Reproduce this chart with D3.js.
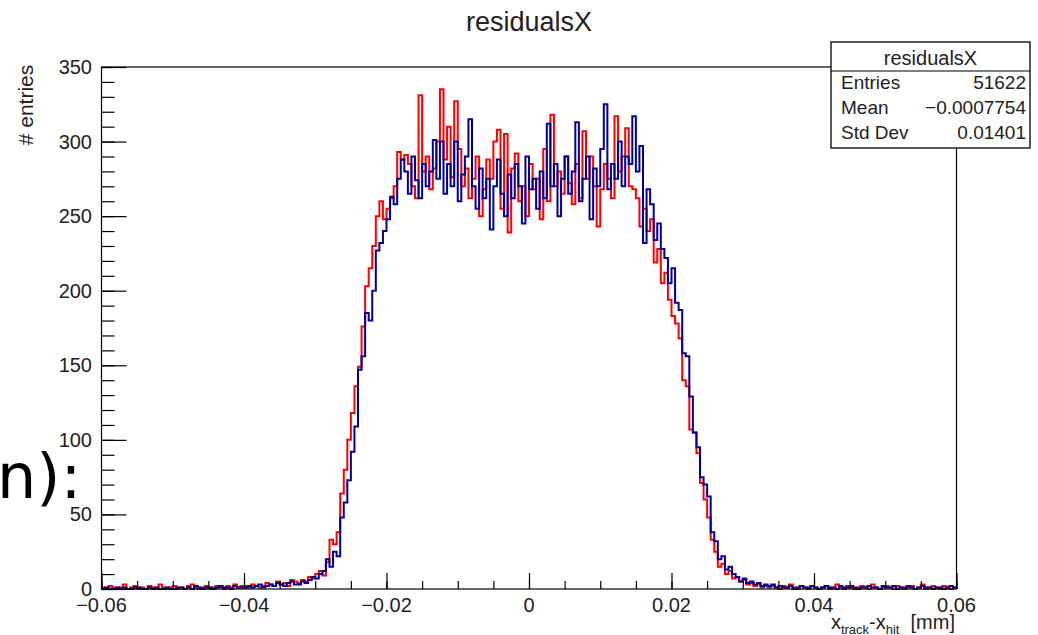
<!DOCTYPE html>
<html>
<head>
<meta charset="utf-8">
<script src="https://cdn.jsdelivr.net/npm/d3@7"></script>
<style>
  html, body { margin: 0; padding: 0; background: #fff; }
  svg { display: block; }
  text { font-family: "Liberation Sans", Arial, Helvetica, sans-serif; }
</style>
</head>
<body>
<svg id="chart" width="1038" height="635"></svg>
<script>
// ---------------- data ----------------
const xRange = [-0.06, 0.06];
const binWidth = 0.0005;           // 240 bins
const xTickValues = [-0.06, -0.04, -0.02, 0, 0.02, 0.04, 0.06];
const xTickLabels = ["\u22120.06", "\u22120.04", "\u22120.02", "0", "0.02", "0.04", "0.06"];
const yTickValues = [0, 50, 100, 150, 200, 250, 300, 350];
const yTickLabels = ["0", "50", "100", "150", "200", "250", "300", "350"];

const redCounts = [
  1,0,2,1,0,1,3,0,1,2, 0,1,0,2,1,0,3,1,0,1, 2,0,1,0,2,3,1,0,1,2, 0,1,2,1,0,2,1,3,1,2,
  2,1,3,2,1, 2,4,3,2,5, 3,4,2,6,5,
  4,6,5,8,7, 10,12,9,18,33, 30,38,64,80,100, 118,136,149,176,203, 215,230,250,260,248,
  255,262,270,293,288,291,285,270,262,331,
  280,290,268,282,300,335,288,310,276,327,
  295,270,282,262,275,290,250,268,288,275,
  300,308,255,305,239,282,292,260,270,250,
  285,268,275,248,295,260,318,270,280,265,
  290,272,258,285,262,307,275,290,270,243,
  268,285,275,262,317,280,290,309,270,268,
  262,243,255,240,248, 219,228,205,212,194, 183,178,168,140,136, 107,105,91,71,60,
  48,33,25,15,17, 10,12,7,8,5, 6,3,4,2,3, 1,2,
  1,2,1,0,2, 1,3,1,0,2, 1,0,2,1,0, 1,2,0,1,3, 1,0,2,1,0, 1,2,1,0,3, 1,0,1,2,1,
  0,2,1,0,1, 2,0,1,3,0, 1,2,1,0,2, 1,0,1
];

const blueCounts = [
  0,1,0,0,1,0,1,0,0,1, 1,0,0,1,0,1,0,0,1,0, 0,1,1,0,1,0,2,1,0,1, 1,0,1,2,1,1,0,2,1,1,
  1,2,1,2,3, 1,2,3,2,4, 3,2,4,5,3,
  3,5,4,6,8, 7,10,12,20,15, 25,22,48,58,73, 92,109,147,156,185, 180,200,227,232,240,
  248,263,258,275,288,280,265,290,274,262,
  285,270,280,301,275,300,265,285,270,300,
  260,278,290,315,270,255,282,262,275,241,
  270,288,265,250,278,262,285,270,245,290,
  268,275,255,280,262,312,270,285,250,275,
  290,265,280,313,260,275,290,248,282,270,
  295,325,268,285,275,300,270,290,285,317,
  280,297,232,268,258, 234,245,228,222,205, 215,192,187,158,156, 129,105,95,75,70,
  62,38,32,20,22, 13,15,10,8,5, 7,4,5,3,4, 2,3,2,3,
  1,2,1,1,2, 0,1,2,1,1, 2,1,0,1,2, 1,1,0,2,1, 1,2,1,0,1, 1,2,1,1,0, 2,1,1,2,0,
  1,1,2,1,0, 1,2,1,1,0, 1,1,0,1,2, 1
];

const statsTitle = "residualsX";
const statsNames = ["Entries", "Mean", "Std Dev"];
const statsValues = ["51622", "\u22120.0007754", "0.01401"];

// ---------------- layout ----------------
const svg = d3.select("#chart");
const frame = { left: 101.5, right: 956.5, top: 67, bottom: 589 };

const x = d3.scaleLinear().domain(xRange).range([frame.left, frame.right]);
const y = d3.scaleLinear().domain([0, 350]).range([frame.bottom, frame.top]);

// leftover slide text at the left edge
svg.append("text")
  .attr("x", -3).attr("y", 498)
  .attr("font-family", "DejaVu Sans")
  .style("font-family", "'DejaVu Sans', sans-serif")
  .attr("font-size", 62)
  .attr("fill", "#000")
  .text("n):");

// histogram step lines
function stepPoints(counts) {
  const pts = counts.map((c, i) => [xRange[0] + i * binWidth, c]);
  pts.push([xRange[0] + counts.length * binWidth, counts[counts.length - 1]]);
  return pts;
}
const stepLine = d3.line()
  .x(d => x(d[0]))
  .y(d => y(d[1]))
  .curve(d3.curveStepAfter);

svg.append("path")
  .attr("d", stepLine(stepPoints(redCounts)))
  .attr("fill", "none").attr("stroke", "#ff0000").attr("stroke-width", 2);
svg.append("path")
  .attr("d", stepLine(stepPoints(blueCounts)))
  .attr("fill", "none").attr("stroke", "#000099").attr("stroke-width", 2);

// frame
svg.append("rect")
  .attr("x", frame.left).attr("y", frame.top)
  .attr("width", frame.right - frame.left).attr("height", frame.bottom - frame.top)
  .attr("fill", "none").attr("stroke", "#000").attr("stroke-width", 1.2);

// x axis (ticks upward)
const xMinor = d3.range(-0.06, 0.0601, 0.005);
const xAxisG = svg.append("g").attr("transform", `translate(0,${frame.bottom})`);
const xAxis = d3.axisTop(x).tickValues(xMinor).tickSize(8).tickFormat("");
xAxisG.call(xAxis);
xAxisG.select(".domain").remove();
xAxisG.selectAll(".tick line").attr("stroke", "#000").attr("stroke-width", 1.2);
const xMajorG = svg.append("g").attr("transform", `translate(0,${frame.bottom})`);
xMajorG.call(d3.axisTop(x).tickValues(xTickValues).tickSize(16).tickFormat(""));
xMajorG.select(".domain").remove();
xMajorG.selectAll(".tick line").attr("stroke", "#000").attr("stroke-width", 1.2);
svg.append("g").selectAll("text").data(xTickValues).join("text")
  .attr("x", d => x(d)).attr("y", 612)
  .attr("text-anchor", "middle").attr("font-size", 20).attr("fill", "#222")
  .text((d, i) => xTickLabels[i]);

// y axis (ticks rightward)
const yMinor = d3.range(0, 351, 10);
const yAxisG = svg.append("g").attr("transform", `translate(${frame.left},0)`);
yAxisG.call(d3.axisRight(y).tickValues(yMinor).tickSize(13).tickFormat(""));
yAxisG.select(".domain").remove();
yAxisG.selectAll(".tick line").attr("stroke", "#000").attr("stroke-width", 1.2);
const yMajorG = svg.append("g").attr("transform", `translate(${frame.left},0)`);
yMajorG.call(d3.axisRight(y).tickValues(yTickValues).tickSize(25).tickFormat(""));
yMajorG.select(".domain").remove();
yMajorG.selectAll(".tick line").attr("stroke", "#000").attr("stroke-width", 1.2);
svg.append("g").selectAll("text").data(yTickValues).join("text")
  .attr("x", 92).attr("y", d => y(d) + 7)
  .attr("text-anchor", "end").attr("font-size", 20).attr("fill", "#222")
  .text((d, i) => yTickLabels[i]);

// y title
svg.append("text")
  .attr("transform", "translate(33,105) rotate(-90)")
  .attr("text-anchor", "middle").attr("font-size", 21).attr("fill", "#222")
  .text("# entries");

// x title
const xt = svg.append("text")
  .attr("x", 955).attr("y", 629)
  .attr("text-anchor", "end").attr("font-size", 20).attr("fill", "#222");
xt.append("tspan").text("x");
xt.append("tspan").attr("font-size", 13).attr("dy", 5).text("track");
xt.append("tspan").attr("dy", -5).text("-x");
xt.append("tspan").attr("font-size", 13).attr("dy", 5).text("hit");
xt.append("tspan").attr("dy", -5).text("\u00a0 [mm]");

// main title
svg.append("text")
  .attr("x", 529).attr("y", 31)
  .attr("text-anchor", "middle").attr("font-size", 27).attr("fill", "#222")
  .text("residualsX");

// stats box
const sb = { x: 831, y: 42, w: 199, h: 106 };
svg.append("rect")
  .attr("x", sb.x).attr("y", sb.y).attr("width", sb.w).attr("height", sb.h)
  .attr("fill", "#fff").attr("stroke", "#000").attr("stroke-width", 1.3);
svg.append("line")
  .attr("x1", sb.x).attr("x2", sb.x + sb.w).attr("y1", 71).attr("y2", 71)
  .attr("stroke", "#000").attr("stroke-width", 1.2);
svg.append("text")
  .attr("x", sb.x + sb.w / 2).attr("y", 65)
  .attr("text-anchor", "middle").attr("font-size", 20).attr("fill", "#222")
  .text(statsTitle);
const rowY = [89, 114, 139];
svg.append("g").selectAll("text").data(statsNames).join("text")
  .attr("x", 841).attr("y", (d, i) => rowY[i])
  .attr("font-size", 19).attr("fill", "#222").text(d => d);
svg.append("g").selectAll("text").data(statsValues).join("text")
  .attr("x", 1026).attr("y", (d, i) => rowY[i])
  .attr("text-anchor", "end").attr("font-size", 19).attr("fill", "#222").text(d => d);
</script>
</body>
</html>
